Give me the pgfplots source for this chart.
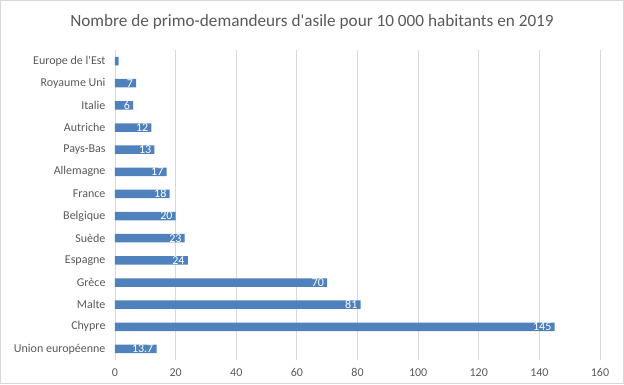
\documentclass[border=0pt]{standalone}
\usepackage{fontspec}
\setmainfont{Carlito}
\usepackage{pgfplots}
\pgfplotsset{compat=1.18}
\usepackage{pgfplotstable}
\definecolor{barblue}{HTML}{4F81BD}
\definecolor{txtgray}{HTML}{595959}
\definecolor{gridgray}{HTML}{D9D9D9}
\pgfplotstableread{
y x lab
0 13.7 13.7
1 145 145
2 81 81
3 70 70
4 24 24
5 23 23
6 20 20
7 18 18
8 17 17
9 13 13
10 12 12
11 6 6
12 7 7
13 1.2 {}
}\datatab
\begin{document}
\begin{tikzpicture}[x=1pt,y=1pt]
\useasboundingbox (0,0) rectangle (624,384);
\draw[gridgray, line width=0.8pt] (0.5,0.5) rectangle (623.5,383.5);
\node[text=txtgray, font=\fontsize{17.2}{20}\selectfont] at (312,362) {Nombre de primo-demandeurs d\textquotesingle asile pour 10 000 habitants en 2019};
\begin{axis}[
  at={(115pt,24pt)}, anchor=south west,
  scale only axis, width=485pt, height=310pt,
  xbar, bar width=8.5pt,
  xmin=0, xmax=160, ymin=-0.5, ymax=13.5,
  xtick={0,20,...,160},
  ytick={0,...,13},
  yticklabels={Union européenne, Chypre, Malte, Grèce, Espagne, Suède, Belgique, France, Allemagne, Pays-Bas, Autriche, Italie, Royaume Uni, Europe de l\textquotesingle Est},
  axis line style={draw=none},
  major tick length=0pt,
  xmajorgrids, grid style={gridgray, line width=0.8pt},
  ticklabel style={text=txtgray, font=\fontsize{12}{14}\selectfont},
  /pgf/number format/assume math mode=true,
  xticklabel style={yshift=-5pt},
  yticklabel style={xshift=-6pt},
  point meta=explicit symbolic,
  nodes near coords,
  every node near coord/.append style={anchor=east, text=white, font=\fontsize{12}{14}\selectfont, inner sep=1pt, xshift=-2pt},
]
\addplot[fill=barblue, draw=none] table[x=x, y=y, meta=lab] {\datatab};
\end{axis}
\end{tikzpicture}
\end{document}
